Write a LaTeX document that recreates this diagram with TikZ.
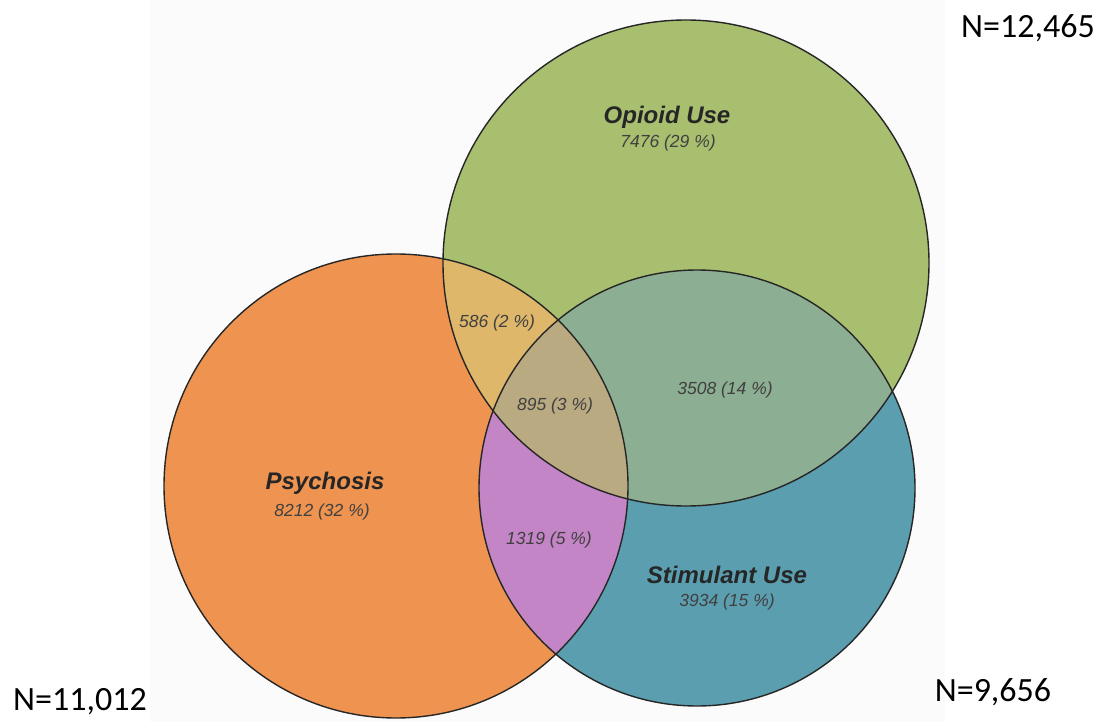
\documentclass[tikz,border=0pt]{standalone}
\usepackage{fontspec}
\setsansfont{Liberation Sans}
\newfontfamily\calibrifont{Carlito}
\definecolor{bgc}{HTML}{FBFBFB}
\definecolor{corange}{HTML}{EE9450}
\definecolor{cgreen}{HTML}{A8BF70}
\definecolor{cblue}{HTML}{5A9EB0}
\definecolor{cog}{HTML}{DEB76A}
\definecolor{cob}{HTML}{C385C6}
\definecolor{cgb}{HTML}{8CAE92}
\definecolor{cogb}{HTML}{B9AA82}
\tikzset{
  setname/.style={font=\sffamily\bfseries\itshape\fontsize{24}{26}\selectfont, text=black!85},
  setnum/.style={font=\sffamily\itshape\fontsize{17.5}{19}\selectfont, text=black!75},
  ntotal/.style={font=\calibrifont\fontsize{34}{37}\selectfont, text=black},
  outline/.style={draw=black!85, line width=1.4pt}
}
\begin{document}
\begin{tikzpicture}[x=1pt,y=-1pt]
\useasboundingbox (0,0) rectangle (1101,722);
\fill[bgc] (150,0) rectangle (945,722);
% single sets
\fill[corange] (396,486) circle[radius=232];
\fill[cgreen] (686,263) circle[radius=243];
\fill[cblue] (697,488) circle[radius=218];
% pairwise overlaps
\begin{scope}
  \clip (396,486) circle[radius=232];
  \fill[cog] (686,263) circle[radius=243];
  \fill[cob] (697,488) circle[radius=218];
\end{scope}
\begin{scope}
  \clip (686,263) circle[radius=243];
  \fill[cgb] (697,488) circle[radius=218];
\end{scope}
\begin{scope}
  \clip (396,486) circle[radius=232];
  \clip (686,263) circle[radius=243];
  \fill[cogb] (697,488) circle[radius=218];
\end{scope}
% outlines
\draw[outline] (396,486) circle[radius=232];
\draw[outline] (686,263) circle[radius=243];
\draw[outline] (697,488) circle[radius=218];
% labels
\node[setname] (opname) at (667,117) {Opioid Use};
\node[setnum] (opnum) at (668,143) {7476 (29 \%)};
\node[setname] (psname) at (325,483) {Psychosis};
\node[setnum] (psnum) at (322,512) {8212 (32 \%)};
\node[setname] (stname) at (727,575) {Stimulant Use};
\node[setnum] (stnum) at (727,602) {3934 (15 \%)};
\node[setnum] (og) at (497,323) {586 (2 \%)};
\node[setnum] (ogb) at (555,406) {895 (3 \%)};
\node[setnum] (gb) at (725,390) {3508 (14 \%)};
\node[setnum] (ob) at (549,540) {1319 (5 \%)};
% totals
\node[ntotal] (ntop) at (1028,28) {N=12,465};
\node[ntotal] (nleft) at (80,702) {N=11,012};
\node[ntotal] (nright) at (993,692) {N=9,656};
\end{tikzpicture}
\end{document}
